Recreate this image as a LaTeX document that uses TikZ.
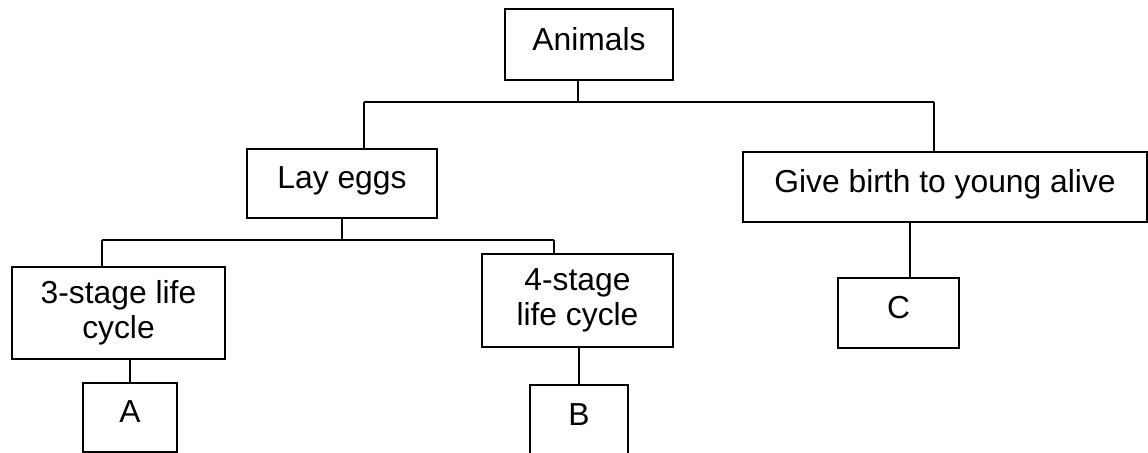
\documentclass[tikz,border=0pt]{standalone}
\usepackage{fontspec}
\setmainfont{Liberation Sans}
\begin{document}
\begin{tikzpicture}[x=0.5pt,y=-0.5pt,
  box/.style={draw=black,line width=1pt,rectangle,inner sep=0pt,align=center,
    font=\fontsize{15.9}{17.4}\selectfont},
  oneline/.style={box,text depth=6pt},
  conn/.style={draw=black,line width=1pt}]
\useasboundingbox (0,0) rectangle (1148,453);
\node[oneline,minimum width=84pt,minimum height=35.5pt] (animals) at (589,44.5) {Animals};
\node[oneline,minimum width=95pt,minimum height=34.5pt] (lay) at (342,183.5) {Lay eggs};
\node[oneline,minimum width=202pt,minimum height=35pt] (give) at (945,187) {Give birth to young alive};
\node[box,minimum width=106.5pt,minimum height=46pt] (three) at (118.5,313) {3-stage life\\cycle};
\node[box,minimum width=95.5pt,minimum height=46.5pt] (four) at (577.5,300.5) {4-stage\\life cycle};
\node[oneline,minimum width=60.5pt,minimum height=35pt] (c) at (898.5,313) {C};
\node[oneline,minimum width=47pt,minimum height=34.5pt] (a) at (130,417.5) {A};
\node[oneline,minimum width=49pt,minimum height=35.5pt] (b) at (579,420.5) {B};
% level 1 bus
\coordinate (j0) at (578,102);
\coordinate (jL) at (364,102);
\coordinate (jR) at (934,102);
\draw[conn] (animals.south -| j0) -- (j0);
\draw[conn] (jL) -- (jR);
\draw[conn] (jL) -- (lay.north -| jL);
\draw[conn] (jR) -- (give.north -| jR);
% level 2 bus
\coordinate (kL) at (102,240);
\coordinate (kR) at (554,240);
\draw[conn] (lay.south) -- (lay.south |- kL);
\draw[conn] (kL) -- (kR);
\draw[conn] (kL) -- (three.north -| kL);
\draw[conn] (kR) -- (four.north -| kR);
% leaves
\draw[conn] (three.south -| a.north) -- (a.north);
\draw[conn] (four.south -| b.north) -- (b.north);
\coordinate (cx) at (910,0);
\draw[conn] (give.south -| cx) -- (c.north -| cx);
\end{tikzpicture}
\end{document}
